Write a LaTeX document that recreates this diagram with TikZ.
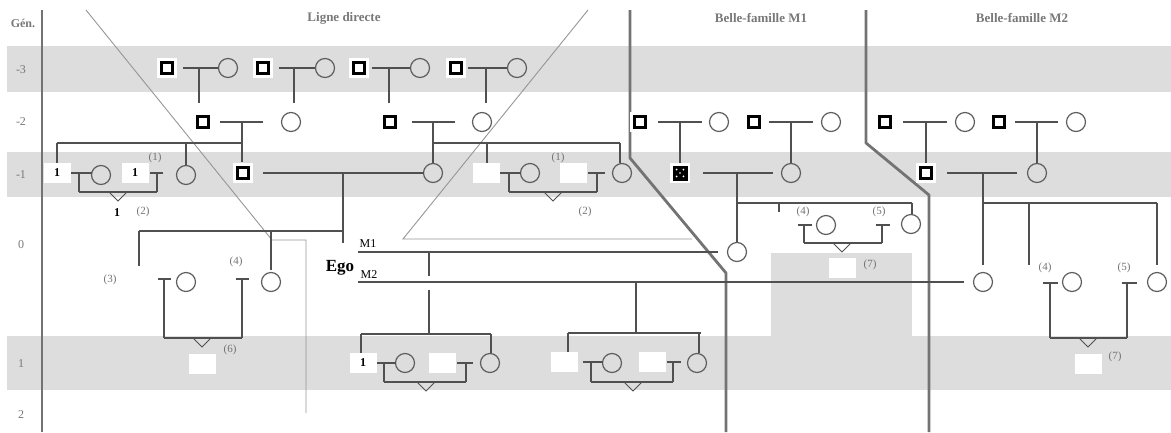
\documentclass[tikz,border=0pt]{standalone}
\usepackage{fontspec}
\setmainfont{Liberation Serif}
\definecolor{lc}{RGB}{80,80,80}
\definecolor{cc}{RGB}{95,95,95}
\definecolor{bandc}{RGB}{221,221,221}
\definecolor{labc}{RGB}{115,115,115}
\definecolor{genc}{RGB}{120,120,120}
\definecolor{sepc}{RGB}{115,115,115}
\definecolor{thinc}{RGB}{150,150,150}
\newcommand{\mcouple}[8]{%
  \node[sq] (#1s) at (#2,#4) {};
  \node[ci] (#1c) at (#3,#4) {};
  \coordinate (#1l) at (#5,#4); \coordinate (#1r) at (#6,#4);
  \coordinate (#1t) at (#7,#4); \coordinate (#1d) at (#7,#8);
  \draw[ln] (#1l) -- (#1r) (#1t) -- (#1d);}
\newcommand{\mtick}[6]{%
  \coordinate (#1a) at (#2,#5); \coordinate (#1b) at (#3,#5);
  \coordinate (#1t) at (#4,#5); \coordinate (#1d) at (#4,#6);
  \draw[ln] (#1a) -- (#1b) (#1t) -- (#1d);}
\newcommand{\mdrop}[4]{%
  \coordinate (#1a) at (#2,#3); \coordinate (#1b) at (#2,#4);
  \draw[ln] (#1a) -- (#1b);}
\newcommand{\mhbar}[4]{%
  \coordinate (#1a) at (#2,#4); \coordinate (#1b) at (#3,#4);
  \draw[ln] (#1a) -- (#1b);}
\newcommand{\mvee}[2]{%
  \draw[ln, line width=1pt] (#1-9,#2) -- (#1,#2+9) -- (#1+9,#2);}
\begin{document}
\begin{tikzpicture}[x=1pt,y=-1pt,
  ln/.style={draw=lc, line width=1.4pt},
  sq/.style={draw=black, line width=2.8pt, fill=white, minimum size=10.5pt, inner sep=0pt, outer sep=0pt, preaction={draw=white, line width=9pt}},
  sqx/.style={draw=black, line width=1pt, fill=black, minimum size=14pt, inner sep=0pt, outer sep=0pt, preaction={draw=white, line width=6pt}},
  ci/.style={circle, draw=cc, line width=1.2pt, minimum size=19pt, inner sep=0pt, outer sep=0pt},
  bx/.style={fill=white, minimum width=27pt, minimum height=20pt, inner sep=0pt, outer sep=0pt, font=\bfseries\fontsize{12}{12}\selectfont},
  lab/.style={text=labc, font=\fontsize{11}{11}\selectfont, inner sep=0pt},
  gen/.style={text=genc, font=\fontsize{12}{12}\selectfont, inner sep=0pt},
  ttl/.style={text=genc, font=\bfseries\fontsize{13}{13}\selectfont, inner sep=0pt},
  sep/.style={draw=sepc, line width=2.8pt},
  thn/.style={draw=thinc, line width=0.9pt},
]
\useasboundingbox (0,0) rectangle (1171,432);
% bands
\fill[bandc] (7,46) rectangle (1171,92);
\fill[bandc] (7,152) rectangle (1171,197);
\fill[bandc] (7,336) rectangle (1171,390);
\fill[bandc] (771,253) rectangle (912,337);
% generation labels
\node[gen, font=\bfseries\fontsize{12}{12}\selectfont] (gG) at (23,23) {Gén.};
\node[gen] (g3) at (21,70) {-3};
\node[gen] (g2) at (21,122) {-2};
\node[gen] (g1) at (21,175) {-1};
\node[gen] (g0) at (21,245) {0};
\node[gen] (gp1) at (21,364) {1};
\node[gen] (gp2) at (21,415) {2};
% titles
\node[ttl] (t1) at (344,18) {Ligne directe};
\node[ttl] (t2) at (761,18) {Belle-famille M1};
\node[ttl] (t3) at (1022,18) {Belle-famille M2};
% axis and separators
\draw[sep] (42,10) -- (42,432);
\draw[sep, line join=round] (630,10) -- (630,158) -- (726,273) -- (726,432);
\draw[sep, line join=round] (866,10) -- (866,143) -- (929,195) -- (929,432);
% thin guide lines
\draw[thn] (86,10) -- (272,240) -- (306,240) -- (306,413);
\draw[thn] (588,10) -- (403,239) -- (692,239);
% generation -3
\mcouple{A}{167}{228}{68}{183}{218}{199}{103}
\mcouple{B}{263}{325}{68}{279}{315}{294}{103}
\mcouple{C}{359}{420}{68}{372}{410}{389}{103}
\mcouple{D}{456}{517}{68}{468}{507}{486}{103}
% generation -2
\mcouple{E}{203}{291}{122}{220}{263}{242}{162}
\mcouple{F}{390}{482}{122}{412}{455}{433}{163}
\mcouple{G}{640}{719}{122}{658}{702}{680}{163}
\mcouple{H}{754}{831}{122}{769}{813}{791}{163}
\mcouple{I}{885}{965}{122}{903}{947}{926}{163}
\mcouple{J}{999}{1076}{122}{1015}{1058}{1037}{163}
% generation -1 : parents of Ego
\node[sq] (Ks) at (243,173) {};
\node[ci] (Kc) at (433,173) {};
\coordinate (Kl) at (263,173); \coordinate (Kt) at (343,173); \coordinate (Kd) at (343,243);
\draw[ln] (Kl) -- (Kc.west) (Kt) -- (Kd);
% parents of M1
\node[sqx] (Ls) at (680,173) {};
\fill[white] (Ls.center) ++(-3.4,-3.4) circle (1) ++(6.8,0) circle (1) ++(0,6.8) circle (1) ++(-6.8,0) circle (1);
\fill[white] (Ls.center) circle (0.9);
\node[ci] (Lc) at (791,173) {};
\coordinate (Ll) at (703,173); \coordinate (Lr) at (773,173);
\coordinate (Lt) at (737,173); \coordinate (Ld) at (737,242);
\draw[ln] (Ll) -- (Lr) (Lt) -- (Ld);
% parents of M2
\node[sq] (Ms) at (926,173) {};
\node[ci] (Mc) at (1037,173) {};
\coordinate (Ml) at (947,173); \coordinate (Mr) at (1017,173);
\coordinate (Mt) at (983,173); \coordinate (Md) at (983,265);
\draw[ln] (Ml) -- (Mr) (Mt) -- (Md);
% father's siblings
\mhbar{Nbar}{57}{242}{143}
\mdrop{Nd1}{57}{143}{163}
\mdrop{Nd2}{186}{143}{165}
\node[bx] (N1) at (57,173) {1};
\node[ci] (N1c) at (101,175) {};
\mtick{N1t}{71}{92}{79}{173}{192}
\node[bx] (N2) at (135,173) {1};
\node[ci] (N2c) at (186,175) {};
\mtick{N2t}{150}{163}{157}{173}{192}
\mhbar{Nlow}{79}{157}{192}
\mvee{118}{192}
\node[lab] (l1a) at (155,158) {(1)};
\node[lab] (l2a) at (143,212) {(2)};
\node[font=\bfseries\fontsize{12}{12}\selectfont, inner sep=0pt] (one) at (117,213) {1};
% mother's siblings
\mhbar{Pbar}{433}{620}{143}
\mdrop{Pd1}{487}{143}{163}
\mdrop{Pd2}{620}{143}{163}
\node[bx] (P1) at (486,173) {};
\node[ci] (P1c) at (530,173) {};
\mtick{P1t}{500}{521}{509}{173}{192}
\node[bx] (P2) at (573,173) {};
\node[ci] (P2c) at (622,173) {};
\mtick{P2t}{588}{605}{597}{173}{192}
\mhbar{Plow}{509}{597}{192}
\mvee{553}{192}
\node[lab] (l1b) at (558,158) {(1)};
\node[lab] (l2b) at (585,212) {(2)};
% Ego's siblings
\mhbar{Sbar}{139}{343}{231}
\mdrop{Sd1}{139}{231}{266}
\mdrop{Sd2}{271}{231}{270}
\node[ci] (S1c) at (186,282) {};
\node[ci] (S2c) at (271,282) {};
\mtick{S1t}{158}{171}{164}{279}{338}
\mtick{S2t}{236}{249}{242}{279}{338}
\mhbar{Slow}{164}{242}{338}
\mvee{202}{338}
\node[bx] (S6) at (202,364) {};
\node[lab] (l3) at (110,280) {(3)};
\node[lab] (l4) at (236,262) {(4)};
\node[lab] (l6) at (230,350) {(6)};
% Ego and wives
\node[font=\bfseries\fontsize{17}{17}\selectfont, inner sep=0pt] (ego) at (340,268) {Ego};
\node[font=\fontsize{12}{12}\selectfont, inner sep=0pt] (m1t) at (368,244) {M1};
\node[font=\fontsize{12}{12}\selectfont, inner sep=0pt] (m2t) at (369,275) {M2};
\node[ci] (W1) at (737,252) {};
\node[ci] (W2) at (983,282) {};
\coordinate (W1l) at (358,252); \coordinate (W2l) at (358,282);
\draw[ln] (W1l) -- ([xshift=-10pt]W1.west);
\draw[ln] (W2l) -- ([xshift=-10pt]W2.west);
% children with M1
\mdrop{Qs1}{429}{252}{276}
\mdrop{Qs2}{429}{290}{334}
\mhbar{Qbar}{361}{491}{334}
\mdrop{Qd1}{361}{334}{353}
\mdrop{Qd2}{491}{334}{353}
\node[bx] (Q1) at (363,363) {1};
\node[ci] (Q1c) at (405,363) {};
\mtick{Q1t}{377}{396}{384}{363}{382}
\node[bx] (Q2) at (442,363) {};
\node[ci] (Q2c) at (490,363) {};
\mtick{Q2t}{457}{473}{466}{363}{382}
\mhbar{Qlow}{384}{466}{382}
\mvee{426}{382}
% children with M2
\mdrop{Rs}{636}{282}{333}
\mhbar{Rbar}{568}{701}{333}
\mdrop{Rd1}{568}{333}{352}
\mdrop{Rd2}{699}{333}{353}
\node[bx] (R1) at (564,362) {};
\node[ci] (R1c) at (612,363) {};
\mtick{R1t}{583}{603}{591}{362}{382}
\node[bx] (R2) at (652,362) {};
\node[ci] (R2c) at (697,363) {};
\mtick{R2t}{667}{681}{673}{362}{382}
\mhbar{Rlow}{591}{673}{382}
\mvee{633}{382}
% M1's siblings
\mhbar{Ubar}{737}{912}{203}
\mdrop{Ud1}{779}{203}{212}
\mdrop{Ud2}{912}{203}{214}
\node[ci] (U1c) at (911,224) {};
\node[ci] (U2c) at (826,225) {};
\mtick{U1t}{798}{812}{804}{225}{243}
\mtick{U2t}{876}{890}{882}{225}{243}
\mhbar{Ulow}{804}{882}{243}
\mvee{842}{243}
\node[bx] (U7) at (842,268) {};
\node[lab] (l4u) at (803,212) {(4)};
\node[lab] (l5u) at (879,212) {(5)};
\node[lab] (l7u) at (870,265) {(7)};
% M2's siblings
\mhbar{Vbar}{983}{1157}{203}
\mdrop{Vd1}{1029}{203}{265}
\mdrop{Vd2}{1157}{203}{265}
\node[ci] (V1c) at (1157,282) {};
\node[ci] (V2c) at (1072,282) {};
\mtick{V1t}{1043}{1058}{1050}{283}{338}
\mtick{V2t}{1122}{1137}{1127}{283}{338}
\mhbar{Vlow}{1050}{1127}{338}
\mvee{1088}{338}
\node[bx] (V7) at (1088,364) {};
\node[lab] (l4v) at (1045,268) {(4)};
\node[lab] (l5v) at (1124,268) {(5)};
\node[lab] (l7v) at (1115,357) {(7)};
\end{tikzpicture}
\end{document}
